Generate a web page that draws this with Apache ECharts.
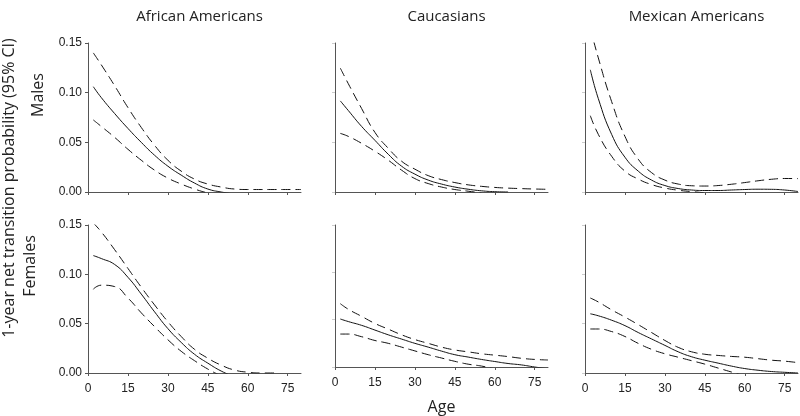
<!DOCTYPE html>
<html>
<head>
<meta charset="utf-8">
<script src="https://cdn.jsdelivr.net/npm/echarts@6/dist/echarts.min.js"></script>
<style>html,body{margin:0;padding:0;background:#fff}#c{width:800px;height:416px}</style>
</head>
<body>
<div id="c"></div>
<script>
// Shared x values (age)
const ages = [2, 5, 10, 15, 20, 25, 30, 35, 40, 45, 50, 55, 60, 65, 70, 75, 80];
const xTicks = [0, 15, 30, 45, 60, 75];
const columns = ['African Americans', 'Caucasians', 'Mexican Americans'];
const rows = ['Males', 'Females'];
const yTitle = '1-year net transition probability (95% CI)';
const xTitle = 'Age';

// African Americans, males
const aaMaleUpper = [0.140, 0.128, 0.107, 0.085, 0.065, 0.047, 0.032, 0.021, 0.013, 0.008, 0.005, 0.003, 0.0025, 0.0025, 0.0025, 0.0025, 0.0025];
const aaMaleMid   = [0.106, 0.095, 0.079, 0.064, 0.050, 0.037, 0.026, 0.017, 0.009, 0.003, 0.0, -0.002, null, null, null, null, null];
const aaMaleLower = [0.0725, 0.066, 0.055, 0.043, 0.032, 0.022, 0.014, 0.008, 0.003, -0.001, -0.004, null, null, null, null, null, null];
// African Americans, females
const aaFemUpper = [0.152, 0.143, 0.125, 0.106, 0.087, 0.069, 0.052, 0.037, 0.024, 0.015, 0.008, 0.003, 0.0008, 0.0, 0.0, null, null];
const aaFemMid   = [0.119, 0.116, 0.110, 0.097, 0.080, 0.062, 0.045, 0.031, 0.019, 0.010, 0.002, -0.004, null, null, null, null, null];
const aaFemLower = [0.085, 0.089, 0.0876, 0.076, 0.061, 0.047, 0.0337, 0.022, 0.0125, 0.004, -0.003, null, null, null, null, null, null];
// Caucasians, males
const caMaleUpper = [0.1247, 0.109, 0.084, 0.060, 0.044, 0.031, 0.023, 0.0165, 0.0125, 0.0095, 0.0072, 0.0057, 0.0046, 0.0039, 0.0034, 0.003, 0.0027];
const caMaleMid   = [0.0917, 0.082, 0.066, 0.052, 0.038, 0.026, 0.018, 0.012, 0.008, 0.005, 0.0028, 0.0012, 0.0003, 0.0, null, null, null];
const caMaleLower = [0.059, 0.056, 0.049, 0.041, 0.032, 0.022, 0.0135, 0.0085, 0.005, 0.0025, 0.0008, -0.001, null, null, null, null, null];
// Caucasians, females
const caFemUpper = [0.0669, 0.061, 0.0535, 0.046, 0.040, 0.034, 0.029, 0.025, 0.021, 0.018, 0.016, 0.014, 0.0125, 0.011, 0.0092, 0.008, 0.0074];
const caFemMid   = [0.0507, 0.048, 0.044, 0.039, 0.034, 0.0295, 0.025, 0.021, 0.0168, 0.013, 0.0105, 0.008, 0.0058, 0.0037, 0.0022, 0.0, -0.002];
const caFemLower = [0.0348, 0.0348, 0.032, 0.028, 0.025, 0.021, 0.017, 0.013, 0.0095, 0.006, 0.003, 0.001, -0.002, null, null, null, null];
// Mexican Americans, males
const maMaleUpper = [0.165, 0.135, 0.091, 0.056, 0.033, 0.0195, 0.012, 0.008, 0.0063, 0.006, 0.0065, 0.0078, 0.0095, 0.0113, 0.0128, 0.0136, 0.0135];
const maMaleMid   = [0.123, 0.094, 0.058, 0.035, 0.021, 0.012, 0.0065, 0.0035, 0.002, 0.0015, 0.0015, 0.002, 0.0025, 0.0028, 0.0027, 0.002, 0.0005];
const maMaleLower = [0.0768, 0.058, 0.036, 0.021, 0.013, 0.0075, 0.004, 0.0018, 0.0004, -0.0008, -0.002, null, null, null, null, null, null];
// Mexican Americans, females
const maFemUpper = [0.076, 0.072, 0.064, 0.0567, 0.049, 0.041, 0.033, 0.026, 0.0215, 0.019, 0.0178, 0.0168, 0.016, 0.0145, 0.013, 0.012, 0.0105];
const maFemMid   = [0.060, 0.058, 0.0535, 0.048, 0.041, 0.0345, 0.028, 0.0215, 0.0165, 0.013, 0.010, 0.007, 0.0045, 0.0028, 0.0015, 0.0007, 0.0];
const maFemLower = [0.0446, 0.0446, 0.042, 0.037, 0.030, 0.024, 0.0195, 0.016, 0.0125, 0.009, 0.005, 0.001, -0.003, null, null, null, null];

const panels = [
  [aaMaleUpper, aaMaleMid, aaMaleLower],
  [caMaleUpper, caMaleMid, caMaleLower],
  [maMaleUpper, maMaleMid, maMaleLower],
  [aaFemUpper, aaFemMid, aaFemLower],
  [caFemUpper, caFemMid, caFemLower],
  [maFemUpper, maFemMid, maFemLower]
];

const lefts = [88, 335, 585];
const tops = [43, 225];
const heights = [149, 148];
const W = 213;
const axisColor = '#555';
const txt = '#222';
const lblFont = "'Liberation Sans', Arial, sans-serif";
const ttlFont = "'Open Sans', 'Noto Sans', sans-serif";

const grids = [], xAxes = [], yAxes = [], series = [];
for (let r = 0; r < 2; r++) {
  for (let c = 0; c < 3; c++) {
    const i = r * 3 + c;
    grids.push({ left: lefts[c], top: tops[r], width: W, height: heights[r] });
    xAxes.push({
      type: 'value', gridIndex: i, min: 0, max: 80, interval: 15,
      axisLine: { show: true, lineStyle: { color: axisColor, width: 1 } },
      axisTick: { show: true, length: 3, customValues: xTicks, lineStyle: { color: axisColor } },
      axisLabel: { show: r === 1, customValues: xTicks, color: txt, fontSize: 12, fontFamily: lblFont, margin: 10 },
      splitLine: { show: false },
      name: (r === 1 && c === 1) ? xTitle : '',
      nameLocation: 'middle', nameGap: 32,
      nameTextStyle: { color: txt, fontSize: 16, fontFamily: ttlFont }
    });
    yAxes.push({
      type: 'value', gridIndex: i, min: 0, max: 0.15, interval: 0.05,
      axisLine: { show: true, lineStyle: { color: axisColor, width: 1 } },
      axisTick: { show: true, length: 3, lineStyle: { color: c === 0 ? axisColor : '#ccc' } },
      axisLabel: { show: c === 0, color: txt, fontSize: 12, fontFamily: lblFont, margin: 6,
        formatter: v => v.toFixed(2) },
      splitLine: { show: false }
    });
    panels[i].forEach((vals, k) => {
      series.push({
        type: 'line', xAxisIndex: i, yAxisIndex: i,
        data: ages.map((a, j) => [a, vals[j]]),
        showSymbol: false, smooth: 0.5, clip: true, silent: true,
        lineStyle: { color: '#111', width: 1, type: k === 1 ? 'solid' : [9, 5] }
      });
    });
  }
}

const titles = columns.map((t, c) => ({
  text: t, left: lefts[c] + W / 2, top: 4, textAlign: 'center',
  textStyle: { color: txt, fontSize: 15, fontWeight: 'normal', fontFamily: ttlFont }
}));

const chart = echarts.init(document.getElementById('c'), null, { renderer: 'canvas' });
chart.setOption({
  animation: false,
  backgroundColor: '#fff',
  title: titles,
  grid: grids, xAxis: xAxes, yAxis: yAxes, series: series,
  graphic: [
    { type: 'text', x: 9, y: 188, rotation: Math.PI / 2,
      style: { text: yTitle, align: 'center', verticalAlign: 'middle',
        fill: txt, fontSize: 16, fontFamily: ttlFont } },
    { type: 'text', x: 38, y: 95, rotation: Math.PI / 2,
      style: { text: rows[0], align: 'center', verticalAlign: 'middle', fill: txt, fontSize: 16, fontFamily: ttlFont } },
    { type: 'text', x: 30, y: 266, rotation: Math.PI / 2,
      style: { text: rows[1], align: 'center', verticalAlign: 'middle', fill: txt, fontSize: 16, fontFamily: ttlFont } }
  ]
});
</script>
</body>
</html>
